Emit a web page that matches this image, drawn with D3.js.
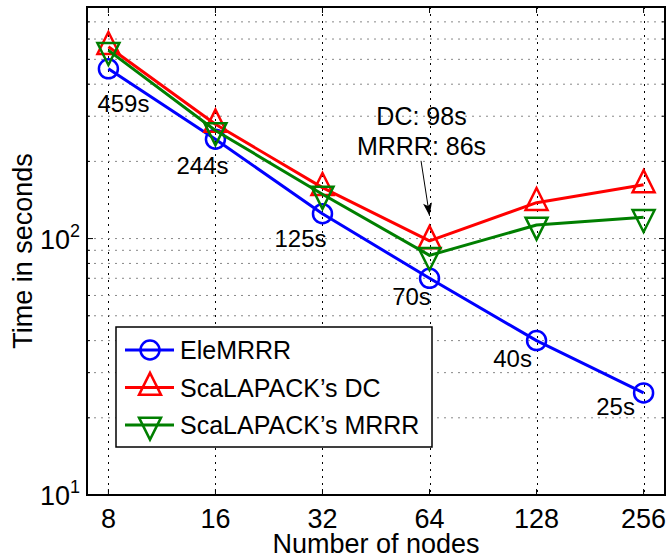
<!DOCTYPE html>
<html>
<head>
<meta charset="utf-8">
<script src="https://cdn.jsdelivr.net/npm/d3@7"></script>
<style>
  body { margin: 0; background: #fff; }
  text { font-family: "Liberation Sans", Arial, Helvetica, sans-serif; fill: #000; }
</style>
</head>
<body>
<svg id="chart"></svg>
<script>
// values
const nodes = [8, 16, 32, 64, 128, 256];
const eleMRRR = [459, 244, 125, 70, 40, 25];
const scaDC = [560, 279, 158, 98, 138, 162];
const scaMRRR = [542, 264, 149, 86, 113, 121];
const seriesNames = ["EleMRRR", "ScaLAPACK\u2019s DC", "ScaLAPACK\u2019s MRRR"];
const timeLabels = ["459s", "244s", "125s", "70s", "40s", "25s"];
const noteLines = ["DC: 98s", "MRRR: 86s"];
const yMajor = [10, 100];
const yMinor = [20, 30, 40, 50, 60, 70, 80, 90, 200, 300, 400, 500, 600, 700, 800];

class LogChart {
    constructor(_config) {
        this.config = {
            parentElement: _config.parentElement,
            containerWidth: _config.containerWidth || 667,
            containerHeight: _config.containerHeight || 556,
            margin: _config.margin || {top: 7, right: 2, bottom: 61, left: 87}
        };
        this.initVis();
    }

    initVis() {
        let vis = this;
        vis.width = vis.config.containerWidth - vis.config.margin.left - vis.config.margin.right;
        vis.height = vis.config.containerHeight - vis.config.margin.top - vis.config.margin.bottom;

        vis.xScale = d3.scaleLog().base(2)
            .domain([Math.pow(2, 2.8), Math.pow(2, 8.2)])
            .range([0, vis.width]);

        vis.yScale = d3.scaleLog()
            .domain([10, 800])
            .range([vis.height, 0]);

        vis.svg = d3.select(vis.config.parentElement)
            .attr('width', vis.config.containerWidth)
            .attr('height', vis.config.containerHeight);

        vis.chart = vis.svg.append('g')
            .attr('transform', `translate(${vis.config.margin.left},${vis.config.margin.top})`);

        vis.series = [
            {name: seriesNames[0], values: eleMRRR, color: '#0000ff', marker: 'circle'},
            {name: seriesNames[1], values: scaDC, color: '#ff0000', marker: 'up'},
            {name: seriesNames[2], values: scaMRRR, color: '#007f00', marker: 'down'}
        ];

        vis.renderVis();
    }

    markerPath(type) {
        const h = 22, w = 11;
        if (type === 'up') return `M0,${-2 * h / 3}L${w},${h / 3}L${-w},${h / 3}Z`;
        if (type === 'down') return `M0,${2 * h / 3}L${w},${-h / 3}L${-w},${-h / 3}Z`;
        return null;
    }

    drawMarker(g, type, color) {
        if (type === 'circle') {
            g.append('circle').attr('r', 9.5)
                .attr('fill', 'none').attr('stroke', color).attr('stroke-width', 2.5);
        } else {
            g.append('path').attr('d', this.markerPath(type))
                .attr('fill', 'none').attr('stroke', color).attr('stroke-width', 2.5)
                .attr('stroke-linejoin', 'miter');
        }
    }

    renderVis() {
        let vis = this;

        // grid: dotted x major lines, dotted y minor lines
        vis.chart.append('g').selectAll('line')
            .data(nodes).join('line')
            .attr('x1', d => Math.round(vis.xScale(d)) + 0.5)
            .attr('x2', d => Math.round(vis.xScale(d)) + 0.5)
            .attr('y1', 0).attr('y2', vis.height)
            .attr('stroke', '#000').attr('stroke-dasharray', '2,5');

        vis.chart.append('g').selectAll('line')
            .data(yMinor.concat(yMajor)).join('line')
            .attr('x1', 0).attr('x2', vis.width)
            .attr('y1', d => vis.yScale(d)).attr('y2', d => vis.yScale(d))
            .attr('stroke', '#888').attr('stroke-dasharray', '2,5');

        // inward ticks on all four sides
        const ticks = vis.chart.append('g').attr('stroke', '#000');
        nodes.forEach(d => {
            const x = vis.xScale(d);
            ticks.append('line').attr('x1', x).attr('x2', x).attr('y1', vis.height).attr('y2', vis.height - 6);
            ticks.append('line').attr('x1', x).attr('x2', x).attr('y1', 0).attr('y2', 6);
        });
        yMajor.concat(yMinor).forEach(d => {
            const y = vis.yScale(d);
            const len = yMajor.includes(d) ? 6 : 3;
            ticks.append('line').attr('x1', 0).attr('x2', len).attr('y1', y).attr('y2', y);
            ticks.append('line').attr('x1', vis.width).attr('x2', vis.width - len).attr('y1', y).attr('y2', y);
        });

        // axis tick labels
        vis.chart.append('g').selectAll('text')
            .data(nodes).join('text')
            .attr('x', d => vis.xScale(d))
            .attr('y', vis.height + 33)
            .attr('text-anchor', 'middle')
            .attr('font-size', 27)
            .text(d => d);

        yMajor.forEach(d => {
            const t = vis.chart.append('text')
                .attr('x', -7)
                .attr('y', vis.yScale(d) + 10)
                .attr('text-anchor', 'end')
                .attr('font-size', 27);
            t.append('tspan').text('10');
            t.append('tspan').attr('dy', -12).attr('font-size', 18).text(Math.round(Math.log10(d)));
        });

        vis.svg.append('text')
            .attr('x', vis.config.margin.left + vis.width / 2)
            .attr('y', vis.config.containerHeight - 3)
            .attr('text-anchor', 'middle')
            .attr('font-size', 27)
            .text('Number of nodes');

        vis.svg.append('text')
            .attr('transform', `translate(32,${vis.config.margin.top + vis.height / 2}) rotate(-90)`)
            .attr('text-anchor', 'middle')
            .attr('font-size', 27)
            .text('Time in seconds');

        // lines and markers
        const line = d3.line()
            .x((d, i) => vis.xScale(nodes[i]))
            .y(d => vis.yScale(d));

        vis.series.forEach(s => {
            vis.chart.append('path')
                .datum(s.values)
                .attr('fill', 'none')
                .attr('stroke', s.color)
                .attr('stroke-width', 3)
                .attr('stroke-linejoin', 'round')
                .attr('d', line);
            s.values.forEach((v, i) => {
                const g = vis.chart.append('g')
                    .attr('transform', `translate(${vis.xScale(nodes[i])},${vis.yScale(v)})`);
                vis.drawMarker(g, s.marker, s.color);
            });
        });

        // time labels under EleMRRR points
        const labelOffsets = [[15, 43], [-13, 35], [-22, 33], [-18, 27], [-24, 26], [-28, 22]];
        timeLabels.forEach((t, i) => {
            vis.chart.append('text')
                .attr('x', vis.xScale(nodes[i]) + labelOffsets[i][0])
                .attr('y', vis.yScale(eleMRRR[i]) + labelOffsets[i][1])
                .attr('text-anchor', 'middle')
                .attr('font-size', 24)
                .text(t);
        });

        // annotation with arrow at 64 nodes
        const ax = vis.xScale(64), ay = vis.yScale(scaDC[3]);
        noteLines.forEach((t, i) => {
            vis.chart.append('text')
                .attr('x', ax - 8)
                .attr('y', ay - 116 + i * 30)
                .attr('text-anchor', 'middle')
                .attr('font-size', 25)
                .text(t);
        });
        const x0 = ax - 8.5, y0 = ay - 80, x1 = ax, y1 = ay - 25;
        vis.chart.append('line')
            .attr('x1', x0).attr('y1', y0).attr('x2', x1).attr('y2', y1)
            .attr('stroke', '#000').attr('stroke-width', 1);
        const ang = Math.atan2(y1 - y0, x1 - x0) * 180 / Math.PI;
        vis.chart.append('path')
            .attr('d', 'M0,0L-13,-4.5L-10,0L-13,4.5Z')
            .attr('fill', '#000')
            .attr('transform', `translate(${x1},${y1}) rotate(${ang})`);

        // axes box
        vis.chart.append('rect')
            .attr('width', vis.width).attr('height', vis.height)
            .attr('fill', 'none').attr('stroke', '#000').attr('stroke-width', 2);

        // legend
        const lg = vis.svg.append('g').attr('transform', 'translate(116,327)');
        lg.append('rect').attr('width', 316).attr('height', 120)
            .attr('fill', '#fff').attr('stroke', '#000').attr('stroke-width', 1.5);
        vis.series.forEach((s, i) => {
            const row = lg.append('g').attr('transform', `translate(0,${23 + i * 37.5})`);
            row.append('line').attr('x1', 9).attr('x2', 58)
                .attr('stroke', s.color).attr('stroke-width', 3);
            const m = row.append('g').attr('transform', 'translate(34,0)');
            vis.drawMarker(m, s.marker, s.color);
            row.append('text').attr('x', 64).attr('y', 9)
                .attr('font-size', 25).text(s.name);
        });
    }
}

new LogChart({parentElement: '#chart'});
</script>
</body>
</html>
